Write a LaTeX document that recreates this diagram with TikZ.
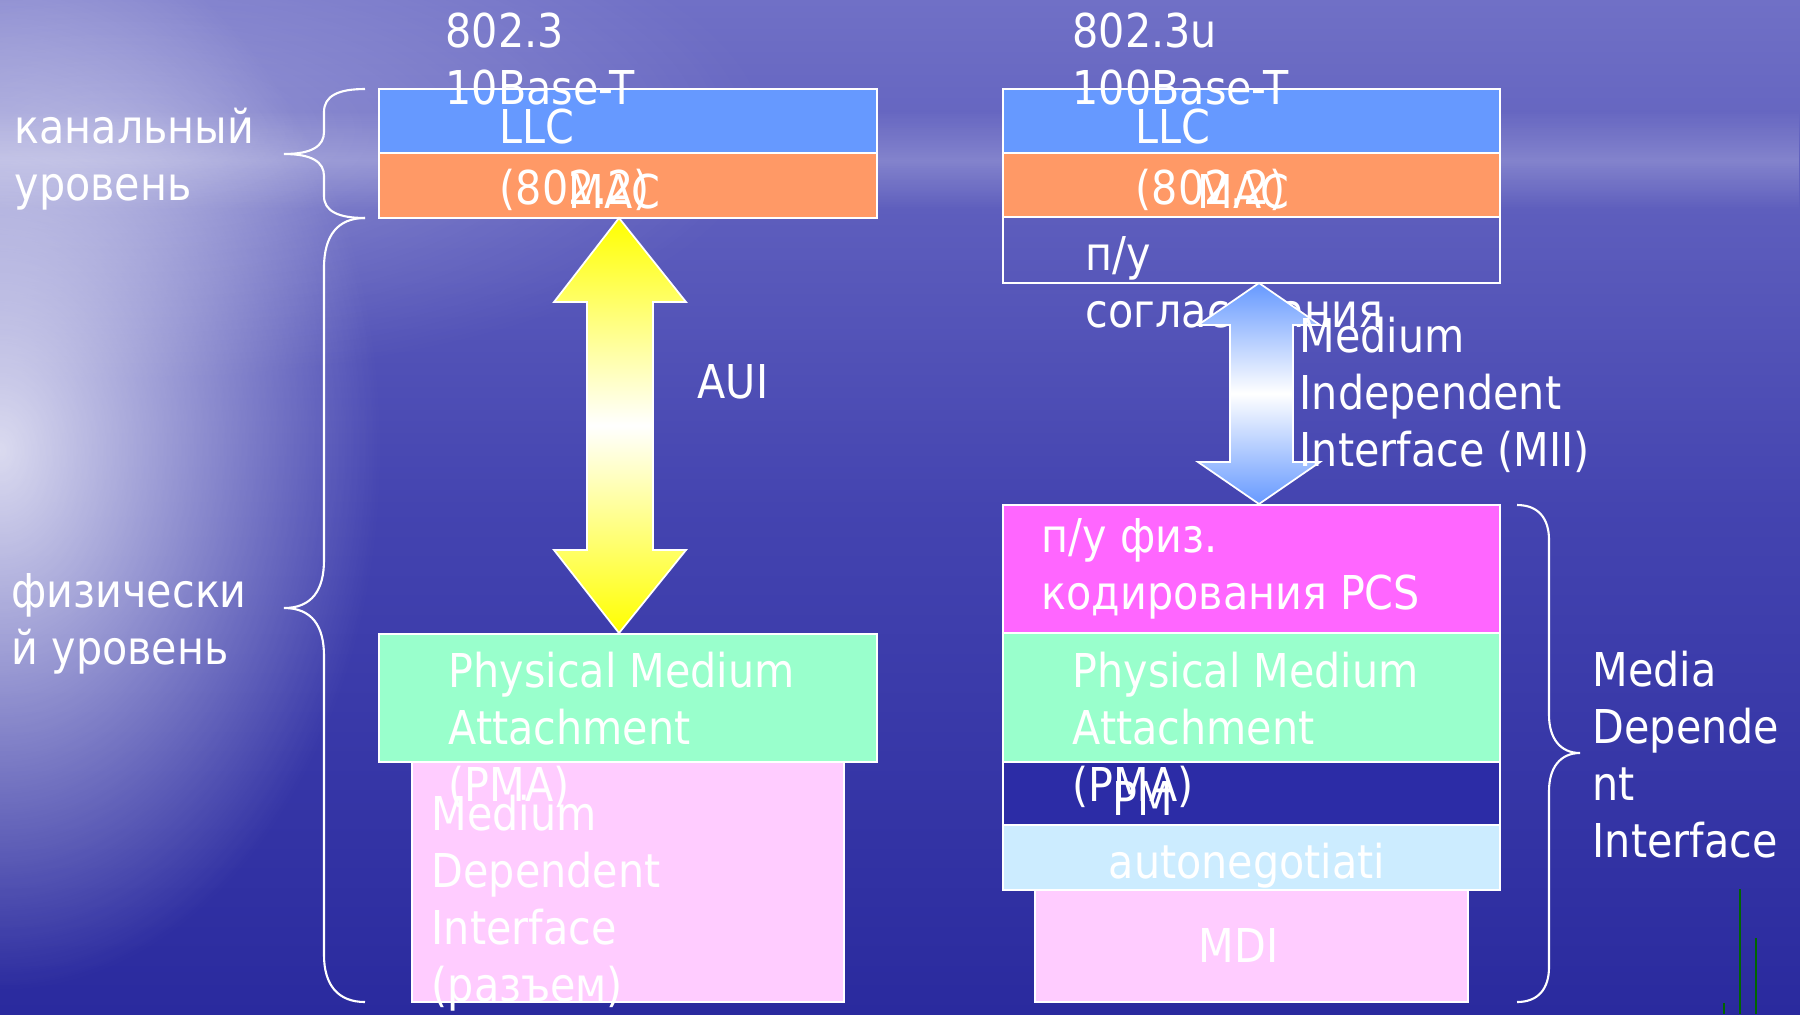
\documentclass[tikz,border=0pt]{standalone}
\usepackage{fontspec}
\setmainfont[FakeStretch=0.885]{DejaVu Sans}
\usetikzlibrary{fit,fadings}
\tikzfading[name=glowfade, inner color=transparent!0, outer color=transparent!100]
\tikzfading[name=bandfade, top color=transparent!100, bottom color=transparent!100, middle color=transparent!30]
\definecolor{bgtop}{HTML}{7070C6}
\definecolor{bgmid}{HTML}{4444B0}
\definecolor{bgbot}{HTML}{2A2A9E}
\definecolor{llcblue}{HTML}{6699FF}
\definecolor{macorange}{HTML}{FF9966}
\definecolor{pmagreen}{HTML}{99FFCC}
\definecolor{mdipink}{HTML}{FFCCFF}
\definecolor{pcsmag}{HTML}{FF66FF}
\definecolor{pmnavy}{HTML}{2C2CA6}
\definecolor{anblue}{HTML}{CCECFF}
\definecolor{arrblue}{HTML}{6699FF}
\definecolor{grline}{HTML}{006600}
\begin{document}
\begin{tikzpicture}[x=0.01cm,y=-0.01cm,
  layerbox/.style={draw=white, line width=0.7pt, inner sep=0pt},
  lbl/.style={text=white, inner sep=0pt, anchor=north west, align=left,
    font=\fontsize{13.26}{16.22}\selectfont},
  bracepath/.style={draw=white, line width=0.6pt}]
% background
\useasboundingbox (0,0) rectangle (1800,1014);
\shade[top color=bgtop, bottom color=bgbot, middle color=bgmid] (0,0) rectangle (1800,1014);
\fill[white, opacity=0.3, path fading=glowfade] (120,130) ellipse (650 and 250);
\fill[white, opacity=0.8, path fading=glowfade] (0,450) ellipse (380 and 540);
\fill[white, opacity=0.3, path fading=bandfade] (0,110) rectangle (1800,210);

% left stack
\node[layerbox, fill=llcblue, fit={(379,89) (877,153)}] (llcL) {};
\node[layerbox, fill=macorange, fit={(379,153) (877,218)}] (macL) {};
\node[layerbox, fill=mdipink, fit={(412,762) (844,1002)}] (mdiL) {};
\node[layerbox, fill=pmagreen, fit={(379,634) (877,762)}] (pmaL) {};

% right stack
\node[layerbox, fill=llcblue, fit={(1003,89) (1500,153)}] (llcR) {};
\node[layerbox, fill=macorange, fit={(1003,153) (1500,217)}] (macR) {};
\node[layerbox, fit={(1003,217) (1500,283)}] (rsR) {};
\node[layerbox, fill=pcsmag, fit={(1003,505) (1500,633)}] (pcsR) {};
\node[layerbox, fill=pmagreen, fit={(1003,633) (1500,762)}] (pmaR) {};
\node[layerbox, fill=pmnavy, fit={(1003,762) (1500,825)}] (pmR) {};
\node[layerbox, fill=anblue, fit={(1003,825) (1500,890)}] (anR) {};
\node[layerbox, fill=mdipink, fit={(1035,890) (1468,1002)}] (mdiR) {};

% texts
\node[lbl] (t802) at (445,7) {\strut 802.3\\10Base-T};
\node[lbl] (t802u) at (1072,7) {\strut 802.3u\\100Base-T};
\node[lbl] (tkan) at (14,103) {\strut канальный\\уровень};
\node[lbl] (tfiz) at (11,567) {\strut физически\\й уровень};
\node[lbl] (tllcL) at (499,103) {\strut LLC\\[1.2pt](802.2)};
\node[lbl] (tmacL) at (568,168) {\strut MAC};
\node[lbl] (tllcR) at (1135,103) {\strut LLC\\[1.2pt](802.2)};
\node[lbl] (tmacR) at (1197,168) {\strut MAC};
\node[lbl] (trs) at (1085,230) {\strut п/у\\согласования};
\node[lbl] (taui) at (697,358) {\strut AUI};
\node[lbl] (tpmaL) at (448,647) {\strut Physical Medium\\Attachment\\(PMA)};
\node[lbl] (tpmaR) at (1072,647) {\strut Physical Medium\\Attachment\\(PMA)};
\node[lbl] (tmdiL) at (431,790) {\strut Medium\\Dependent\\Interface\\(разъем)};
\node[lbl] (tpcs) at (1041,512) {\strut п/у физ.\\кодирования PCS};
\node[lbl] (tpm) at (1112,775) {\strut PM};
\node[lbl] (tan) at (1108,838) {\strut autonegotiati};
\node[lbl] (tmdiR) at (1198,922) {\strut MDI};
\node[lbl] (tmdd) at (1592,646) {\strut Media\\Depende\\nt\\Interface};

% AUI arrow (yellow)
\shadedraw[draw=white, line width=0.5pt, top color=yellow, bottom color=yellow, middle color=white]
  (619,218) -- (686,302) -- (653,302) -- (653,550) -- (686,550) -- (619,633)
  -- (554,550) -- (587,550) -- (587,302) -- (554,302) -- cycle;
% MII arrow (blue)
\shadedraw[draw=white, line width=0.5pt, top color=arrblue, bottom color=arrblue, middle color=white]
  (1259,283) -- (1320,325) -- (1293,325) -- (1293,462) -- (1320,462) -- (1259,504)
  -- (1198,462) -- (1230,462) -- (1230,325) -- (1198,325) -- cycle;

\node[lbl] (tmii) at (1299,312) {\strut Medium\\Independent\\Interface (MII)};

% braces
\draw[bracepath] (365,89) .. controls (338,89) and (324,96) .. (324,112) -- (324,132)
  .. controls (324,146) and (312,154) .. (284,154)
  .. controls (312,154) and (324,162) .. (324,176) -- (324,196)
  .. controls (324,211) and (338,218) .. (365,218);
\draw[bracepath] (365,218) .. controls (338,218) and (324,235) .. (324,268) -- (324,560)
  .. controls (324,590) and (312,608) .. (284,608)
  .. controls (312,608) and (324,626) .. (324,656) -- (324,955)
  .. controls (324,985) and (338,1002) .. (365,1002);
\draw[bracepath] (1517,505) .. controls (1538,505) and (1549,518) .. (1549,540) -- (1549,715)
  .. controls (1549,738) and (1560,753) .. (1580,753)
  .. controls (1560,753) and (1549,768) .. (1549,791) -- (1549,967)
  .. controls (1549,989) and (1538,1002) .. (1517,1002);

% thin green lines
\draw[grline, line width=0.5pt] (1724,1003) -- (1724,1014);
\draw[grline, line width=0.5pt] (1740,889) -- (1740,1014);
\draw[grline, line width=0.5pt] (1756,938) -- (1756,1014);
\end{tikzpicture}
\end{document}
